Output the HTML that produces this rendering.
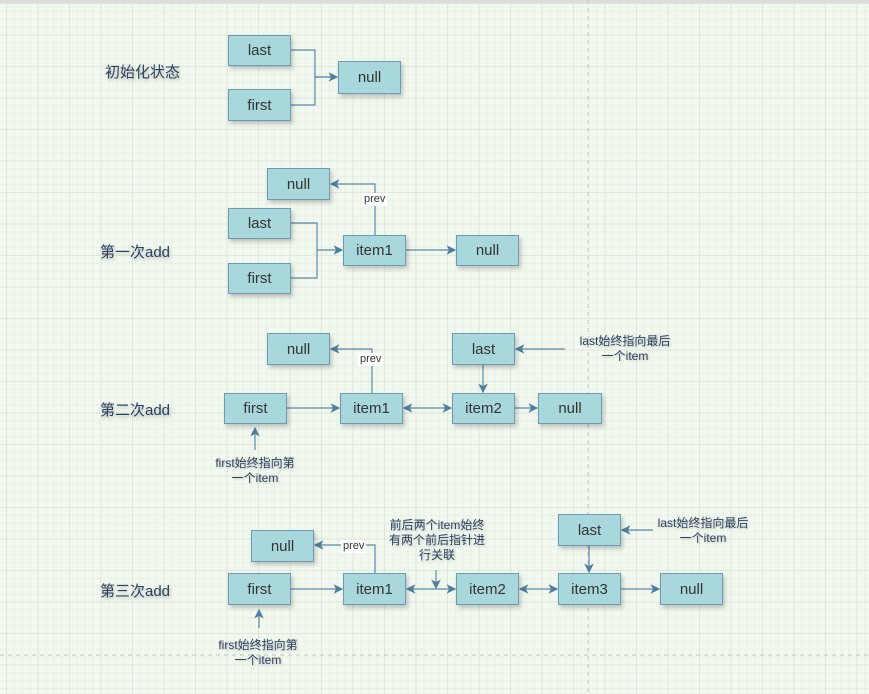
<!DOCTYPE html>
<html><head><meta charset="utf-8"><style>
body{margin:0;width:869px;height:694px;overflow:hidden;font-family:"Liberation Sans","Noto Sans CJK SC",sans-serif;
background-color:#f1f8ee;
background-image:linear-gradient(#dfe5df 1px,transparent 1px),linear-gradient(90deg,#dfe5df 1px,transparent 1px),linear-gradient(#e9f0e6 1px,transparent 1px),linear-gradient(90deg,#e9f0e6 1px,transparent 1px);
background-size:31.5px 31.5px,31.5px 31.5px,7.875px 7.875px,7.875px 7.875px;background-position:6px 3px,6px 3px,6px 3px,6px 3px;position:relative}
.b{position:absolute;background:#a8d8dc;border:1.5px solid #6b9bb5;box-sizing:border-box;display:flex;align-items:center;justify-content:center;font-size:15px;color:#333;box-shadow:2px 3px 4px rgba(0,0,0,.2)}
.t{position:absolute;color:#2c4060;font-size:15px;text-shadow:1px 2px 3px rgba(0,0,0,.25);white-space:nowrap}
.s{position:absolute;color:#2c4060;font-size:12px;text-align:center;line-height:15px;text-shadow:1px 1px 2px rgba(0,0,0,.2)}
.p{position:absolute;background:#fff;font-size:11px;color:#333;padding:0 2px;line-height:13px}
</style></head><body>
<div style="position:absolute;left:0;top:0;width:869px;height:3px;background:#ddd"></div>
<svg width="869" height="694" style="position:absolute;left:0;top:0">
<defs><marker id="a" markerWidth="8" markerHeight="8" refX="7" refY="4" orient="auto"><path d="M0,0 L8,4 L0,8 L2,4z" fill="#4f7fa0"/></marker>
<marker id="s" markerWidth="8" markerHeight="8" refX="1" refY="4" orient="auto"><path d="M8,0 L0,4 L8,8 L6,4z" fill="#4f7fa0"/></marker></defs>
<g stroke="#5c89a8" stroke-width="1.2" fill="none">
<line x1="588" y1="0" x2="588" y2="694" stroke="#ccc" stroke-dasharray="4,4"/>
<line x1="0" y1="655" x2="869" y2="655" stroke="#ccc" stroke-dasharray="4,4"/>
<path d="M291,50 H315 V105 H291 M315,77 H337" /><path d="M315,77 H337" marker-end="url(#a)"/>
<path d="M291,223 H317 V278 H291"/><path d="M317,250 H342" marker-end="url(#a)"/>
<path d="M375,235 V184 H331" marker-end="url(#a)"/><path d="M406,250 H455" marker-end="url(#a)"/>
<path d="M372,393 V349 H331" marker-end="url(#a)"/>
<path d="M287,408 H339" marker-end="url(#a)"/>
<path d="M404,408 H451" marker-end="url(#a)" marker-start="url(#s)"/>
<path d="M515,408 H537" marker-end="url(#a)"/>
<path d="M483,365 V392" marker-end="url(#a)"/>
<path d="M565,349 H516" marker-end="url(#a)"/>
<path d="M255,450 V428" marker-end="url(#a)"/>
<path d="M291,589 H342" marker-end="url(#a)"/>
<path d="M375,573 V545 H315" marker-end="url(#a)"/>
<path d="M407,589 H455" marker-end="url(#a)" marker-start="url(#s)"/>
<path d="M520,589 H557" marker-end="url(#a)" marker-start="url(#s)"/>
<path d="M621,589 H659" marker-end="url(#a)"/>
<path d="M589,546 V572" marker-end="url(#a)"/>
<path d="M653,530 H622" marker-end="url(#a)"/>
<path d="M436,570 V588" marker-end="url(#a)"/>
<path d="M259,628 V610" marker-end="url(#a)"/>
</g></svg>
<div class="t" style="left:105px;top:61px">初始化状态</div>
<div class="t" style="left:100px;top:241px">第一次add</div>
<div class="t" style="left:100px;top:399px">第二次add</div>
<div class="t" style="left:100px;top:580px">第三次add</div>
<div class="b" style="left:228px;top:35px;width:63px;height:31px">last</div>
<div class="b" style="left:228px;top:89px;width:63px;height:32px">first</div>
<div class="b" style="left:338px;top:61px;width:63px;height:33px">null</div>
<div class="b" style="left:267px;top:168px;width:63px;height:32px">null</div>
<div class="b" style="left:228px;top:208px;width:63px;height:31px">last</div>
<div class="b" style="left:228px;top:263px;width:63px;height:31px">first</div>
<div class="b" style="left:343px;top:235px;width:63px;height:31px">item1</div>
<div class="b" style="left:456px;top:235px;width:63px;height:31px">null</div>
<div class="p" style="left:362px;top:193px">prev</div>
<div class="b" style="left:267px;top:333px;width:63px;height:32px">null</div>
<div class="b" style="left:452px;top:333px;width:63px;height:32px">last</div>
<div class="b" style="left:224px;top:393px;width:63px;height:31px">first</div>
<div class="b" style="left:340px;top:393px;width:63px;height:31px">item1</div>
<div class="b" style="left:452px;top:393px;width:63px;height:31px">item2</div>
<div class="b" style="left:538px;top:393px;width:64px;height:31px">null</div>
<div class="p" style="left:358px;top:353px">prev</div>
<div class="s" style="left:565px;top:334px;width:120px">last始终指向最后<br>一个item</div>
<div class="s" style="left:195px;top:456px;width:120px">first始终指向第<br>一个item</div>
<div class="b" style="left:251px;top:530px;width:63px;height:32px">null</div>
<div class="b" style="left:228px;top:573px;width:63px;height:32px">first</div>
<div class="b" style="left:343px;top:573px;width:63px;height:32px">item1</div>
<div class="b" style="left:456px;top:573px;width:63px;height:32px">item2</div>
<div class="b" style="left:558px;top:573px;width:63px;height:32px">item3</div>
<div class="b" style="left:660px;top:573px;width:63px;height:32px">null</div>
<div class="b" style="left:558px;top:514px;width:63px;height:32px">last</div>
<div class="p" style="left:341px;top:540px">prev</div>
<div class="s" style="left:377px;top:518px;width:120px">前后两个item始终<br>有两个前后指针进<br>行关联</div>
<div class="s" style="left:643px;top:516px;width:120px">last始终指向最后<br>一个item</div>
<div class="s" style="left:198px;top:638px;width:120px">first始终指向第<br>一个item</div>
</body></html>
